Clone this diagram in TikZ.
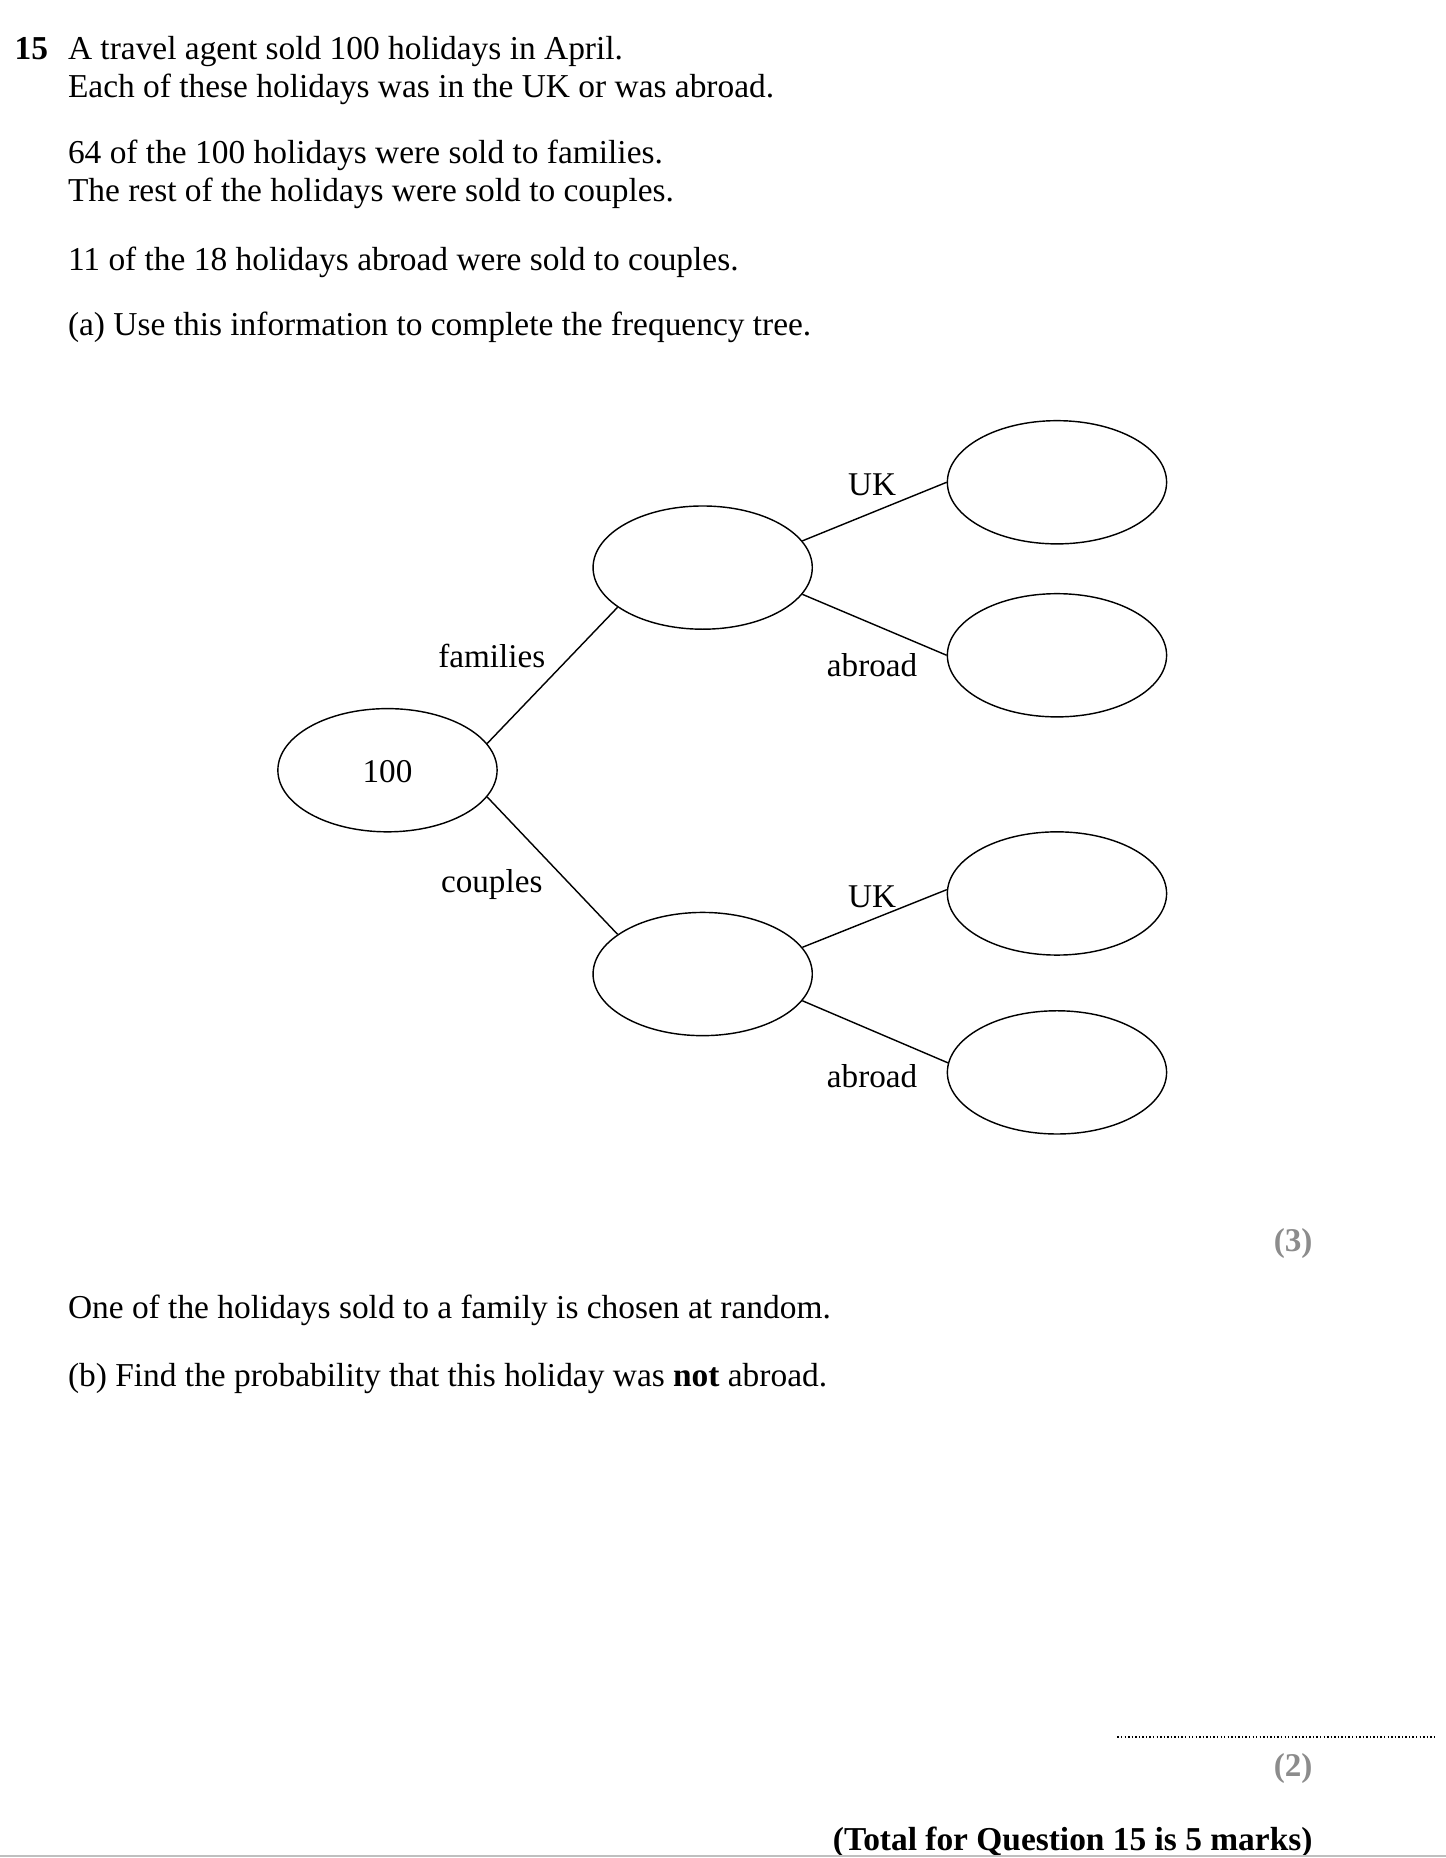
\documentclass[tikz,border=0pt]{standalone}
\usepackage{fontspec}
\setmainfont{Liberation Serif}
\usetikzlibrary{shapes.geometric}
\definecolor{markgray}{HTML}{8C8C8C}
\begin{document}
\begin{tikzpicture}[x=0.5pt,y=-0.5pt,
  oval/.style={draw,ellipse,line width=0.6pt,minimum width=92.5pt,minimum height=52pt,inner sep=0pt},
  txt/.style={font=\fontsize{14.1}{17}\selectfont,anchor=base west,inner sep=0pt},
  lbl/.style={font=\fontsize{14}{17}\selectfont,anchor=base,inner sep=0pt},
  marktxt/.style={font=\fontsize{14}{17}\selectfont\bfseries,text=markgray,anchor=base east,inner sep=0pt},
  branch/.style={line width=0.6pt}]
\useasboundingbox (0,0) rectangle (1220,1568);
% question text
\node[txt,font=\fontsize{14.1}{17}\selectfont\bfseries] (qn) at (12,50) {15};
\node[txt] (l1) at (57,50) {A travel agent sold 100 holidays in April.};
\node[txt] (l2) at (57,82) {Each of these holidays was in the UK or was abroad.};
\node[txt] (l3) at (57,138) {64 of the 100 holidays were sold to families.};
\node[txt] (l4) at (57,170) {The rest of the holidays were sold to couples.};
\node[txt] (l5) at (57,228) {11 of the 18 holidays abroad were sold to couples.};
\node[txt] (l6) at (57,283) {(a) Use this information to complete the frequency tree.};
% tree
\node[oval] (root) at (327,650) {};
\node[lbl] (rootv) at (327,660) {100};
\node[oval] (fam) at (593,479) {};
\node[oval] (cou) at (593,822) {};
\node[oval] (fuk) at (892,407) {};
\node[oval] (fab) at (892,553) {};
\node[oval] (cuk) at (892,754) {};
\node[oval] (cab) at (892,905) {};
\draw[branch] (root.15) -- (fam.205);
\draw[branch] (root.-15) -- (cou.155);
\draw[branch] (fam.15) -- (fuk.180);
\draw[branch] (fam.-15) -- (fab.180);
\draw[branch] (cou.15) -- (cuk.178);
\draw[branch] (cou.-15) -- (cab.175);
\node[lbl] (tfam) at (415,563) {families};
\node[lbl] (tcou) at (415,753) {couples};
\node[lbl] (tfuk) at (736,418) {UK};
\node[lbl] (tfab) at (736,571) {abroad};
\node[lbl] (tcuk) at (736,766) {UK};
\node[lbl] (tcab) at (736,918) {abroad};
% marks and part b
\node[marktxt] (m3) at (1108,1056) {(3)};
\node[txt] (l7) at (57,1113) {One of the holidays sold to a family is chosen at random.};
\node[txt] (l8) at (57,1170) {(b) Find the probability that this holiday was \textbf{not} abroad.};
\coordinate (dotA) at (943,1466);
\coordinate (dotB) at (1212,1466);
\draw[line width=0.6pt,dash pattern=on 0.6pt off 0.9pt] (dotA) -- (dotB);
\node[marktxt] (m2) at (1108,1499) {(2)};
\node[txt,anchor=base east,font=\fontsize{14.1}{17}\selectfont\bfseries] (tot) at (1108,1562) {(Total for Question 15 is 5 marks)};
\coordinate (bl) at (0,1566);
\coordinate (br) at (1220,1566);
\draw[line width=0.8pt,black!25] (bl) -- (br);
\end{tikzpicture}
\end{document}
